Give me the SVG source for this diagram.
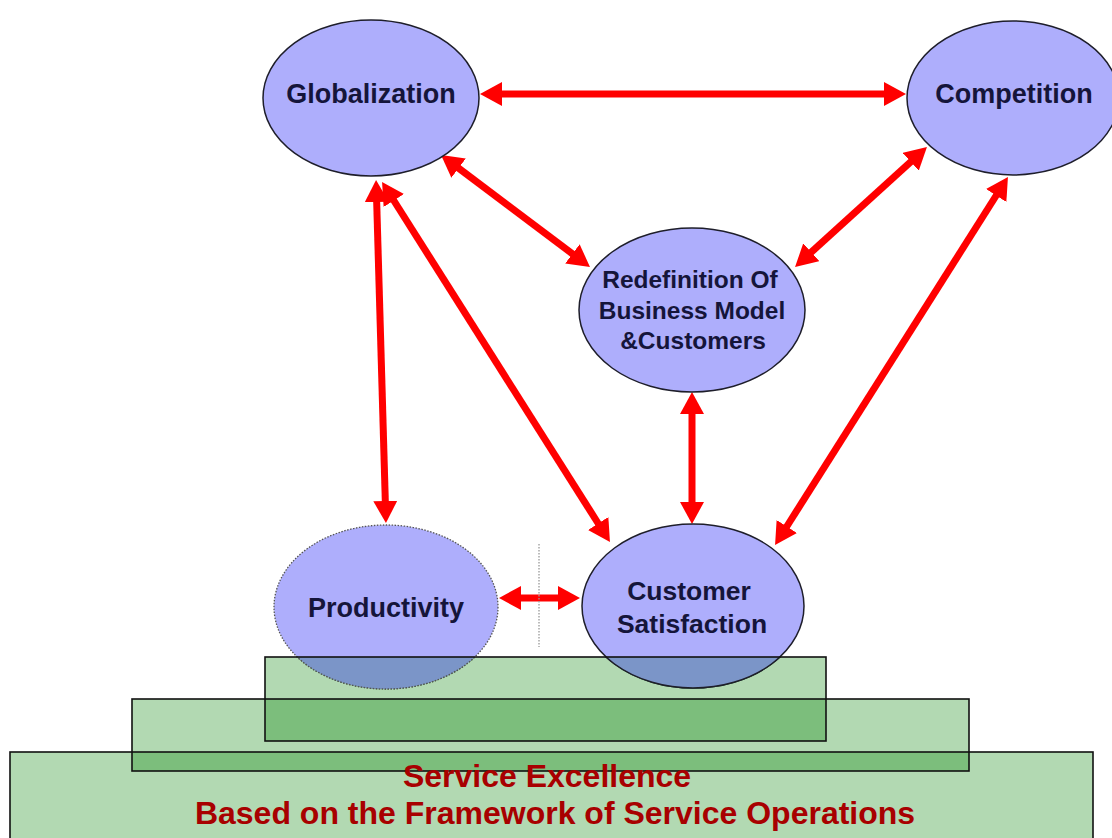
<svg xmlns="http://www.w3.org/2000/svg" width="1112" height="838" viewBox="0 0 1112 838">
<style>
.node{fill:#aeaefc;stroke:#1e1e2a;stroke-width:1.5}
.dotted{stroke:#555;stroke-width:1.3;stroke-dasharray:1.5 1.5}
.lbl{font-family:"Liberation Sans",Arial,sans-serif;font-weight:bold;fill:#15153a;text-anchor:middle}
.arr{stroke:#ff0000;stroke-width:7;fill:none;marker-start:url(#ah);marker-end:url(#ah)}
.base{fill:#008000;fill-opacity:0.3;stroke:none}
.edge{fill:none;stroke:#111;stroke-width:1.6}
.red{font-family:"Liberation Sans",Arial,sans-serif;font-weight:bold;fill:#a80000;text-anchor:middle;font-size:32px}
</style>
<defs>
<marker id="ah" viewBox="0 0 22 24" refX="3" refY="12" markerWidth="22" markerHeight="24" markerUnits="userSpaceOnUse" orient="auto-start-reverse">
<path d="M0,0 L22,12 L0,24 z" fill="#ff0000"/>
</marker>
<clipPath id="topRect"><rect x="265" y="657" width="561" height="84"/></clipPath>
</defs>
<rect width="1112" height="838" fill="#ffffff"/>

<g id="connectors">
<line class="arr" x1="499" y1="94" x2="887" y2="94"/>
<line class="arr" x1="456.2" y1="166.4" x2="574.8" y2="255.6"/>
<line class="arr" x1="912.9" y1="159.8" x2="809.1" y2="254.2"/>
<line class="arr" x1="376.6" y1="199" x2="385.4" y2="504"/>
<line class="arr" x1="392.2" y1="198" x2="599.8" y2="526"/>
<line class="arr" x1="997.8" y1="193" x2="785.2" y2="529"/>
<line class="arr" x1="692" y1="411" x2="692" y2="505"/>
<line class="arr" x1="518" y1="598" x2="561" y2="598"/>
<line x1="539" y1="544" x2="539" y2="647" stroke="#999" stroke-width="1.3" stroke-dasharray="1.5 1.5"/>
</g>

<g id="globalization">
<ellipse class="node" cx="371" cy="98" rx="108" ry="78"/>
<text class="lbl" x="371" y="103" font-size="27">Globalization</text>
</g>
<g id="competition">
<ellipse class="node" cx="1013" cy="98" rx="106" ry="77"/>
<text class="lbl" x="1014" y="103" font-size="27">Competition</text>
</g>
<g id="redefinition">
<ellipse class="node" cx="692" cy="310" rx="113" ry="82"/>
<text class="lbl" x="690" y="288" font-size="24.5">Redefinition Of</text>
<text class="lbl" x="692" y="319" font-size="24.5">Business Model</text>
<text class="lbl" x="693" y="349" font-size="24.5">&amp;Customers</text>
</g>
<g id="productivity">
<ellipse class="node dotted" cx="386" cy="607" rx="112" ry="82"/>
<text class="lbl" x="386" y="617" font-size="27">Productivity</text>
</g>
<g id="customer-satisfaction">
<ellipse class="node" cx="693" cy="606" rx="111" ry="82"/>
<text class="lbl" x="689" y="600" font-size="26.5">Customer</text>
<text class="lbl" x="692" y="633" font-size="26.5">Satisfaction</text>
</g>

<g id="base">
<rect class="base" x="10" y="752" width="1083" height="100"/>
<rect class="base" x="132" y="699" width="837" height="72"/>
<rect class="base" x="265" y="657" width="561" height="84"/>
<g clip-path="url(#topRect)">
<ellipse cx="386" cy="607" rx="112" ry="82" fill="#7b95c8" stroke="#555" stroke-width="1.3" stroke-dasharray="1.5 1.5"/>
<ellipse cx="693" cy="606" rx="111" ry="82" fill="#7b95c8" stroke="#1e1e2a" stroke-width="1.5"/>
</g>
<rect class="edge" x="10" y="752" width="1083" height="100"/>
<rect class="edge" x="132" y="699" width="837" height="72"/>
<rect class="edge" x="265" y="657" width="561" height="84"/>
<text class="red" x="547" y="787">Service Excellence</text>
<text class="red" x="555" y="824">Based on the Framework of Service Operations</text>
</g>
</svg>
